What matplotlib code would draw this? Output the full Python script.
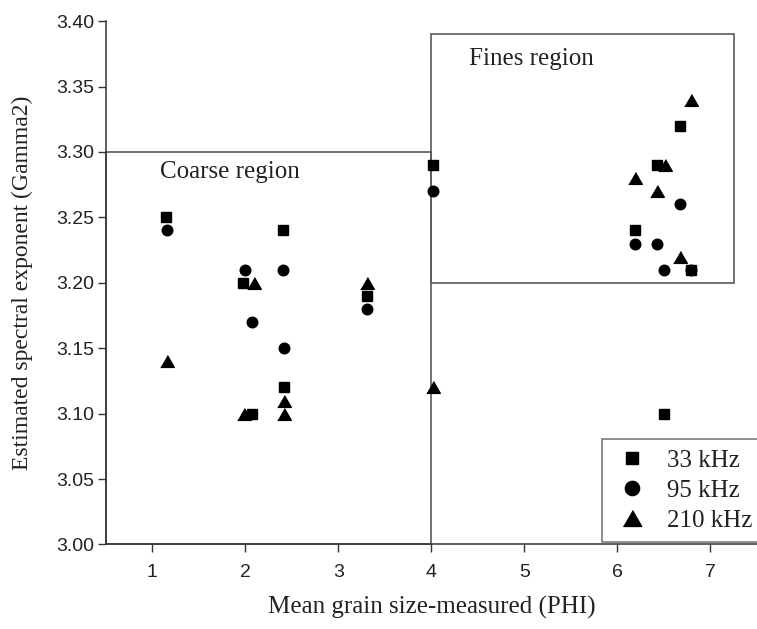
import matplotlib.pyplot as plt
from matplotlib.patches import Rectangle

# Datos: tamano de grano (PHI) y exponente espectral
phi_33 = [1.15, 1.98, 2.07, 2.41, 2.42, 3.31, 4.02, 6.67, 6.43, 6.19, 6.79, 6.50]
gam_33 = [3.25, 3.20, 3.10, 3.24, 3.12, 3.19, 3.29, 3.32, 3.29, 3.24, 3.21, 3.10]

phi_95 = [1.16, 2.00, 2.07, 2.41, 2.42, 3.31, 4.02, 6.67, 6.19, 6.43, 6.50, 6.79]
gam_95 = [3.24, 3.21, 3.17, 3.21, 3.15, 3.18, 3.27, 3.26, 3.23, 3.23, 3.21, 3.21]

phi_210 = [1.16, 2.09, 1.99, 2.42, 2.42, 3.31, 4.02, 6.79, 6.51, 6.19, 6.43, 6.67]
gam_210 = [3.14, 3.20, 3.10, 3.11, 3.10, 3.20, 3.12, 3.34, 3.29, 3.28, 3.27, 3.22]

x_ticks = [1, 2, 3, 4, 5, 6, 7]
y_ticks = [3.00, 3.05, 3.10, 3.15, 3.20, 3.25, 3.30, 3.35, 3.40]

serif = ['Liberation Serif', 'DejaVu Serif']
sans = ['Liberation Sans', 'DejaVu Sans']

fig = plt.figure(figsize=(7.57, 6.29), dpi=100)
ax = fig.add_axes([0.1396, 0.1344, 0.8604, 0.832])

# Regiones (cajas)
caja_color = '#5a5a5a'
ax.add_patch(Rectangle((0.5, 3.0), 3.5, 0.30, fill=False, edgecolor=caja_color,
                       linewidth=1.2, zorder=1, clip_on=False))
ax.add_patch(Rectangle((4.0, 3.2), 3.25, 0.19, fill=False, edgecolor=caja_color,
                       linewidth=1.2, zorder=1, clip_on=False))

ax.text(1.08, 3.285, 'Coarse region', family=serif, fontsize=18, color='#222222',
        va='center', ha='left')
ax.text(4.40, 3.371, 'Fines region', family=serif, fontsize=18, color='#222222',
        va='center', ha='left')

tri = [(-1, -0.866), (1, -0.866), (0, 0.866)]
ax.plot(phi_33, gam_33, 's', color='black', markersize=6.8, label='33 kHz', zorder=3)
ax.plot(phi_95, gam_95, 'o', color='black', markersize=7.6, label='95 kHz', zorder=3)
ax.plot(phi_210, gam_210, marker=tri, linestyle='none', color='black',
        markersize=9.8, label='210 kHz', zorder=3)

ax.set_xlim(0.5, 7.5)
ax.set_ylim(3.0, 3.4)
ax.set_xticks(x_ticks)
ax.set_yticks(y_ticks)
ax.set_xticklabels([str(v) for v in x_ticks], family=sans, fontsize=14)
ax.set_yticklabels([f'{v:.2f}' for v in y_ticks], family=sans, fontsize=14)
ax.tick_params(direction='out', length=6, width=1.0, color='#333333',
               labelcolor='#222222')
ax.tick_params(axis='x', pad=8)
ax.tick_params(axis='y', pad=2)

for lado in ['top', 'right']:
    ax.spines[lado].set_visible(False)
for lado in ['left', 'bottom']:
    ax.spines[lado].set_color('#333333')
    ax.spines[lado].set_linewidth(1.1)

ax.set_xlabel('Mean grain size-measured (PHI)', family=serif, fontsize=18,
              color='#222222', va='center')
ax.set_ylabel('Estimated spectral exponent (Gamma2)', family=serif, fontsize=17,
              color='#222222', va='center')
ax.xaxis.set_label_coords(0.5, -0.121)
ax.yaxis.set_label_coords(-0.1285, 0.5)

leg = ax.legend(loc='upper left', bbox_to_anchor=(0.7615, 0.2015), borderaxespad=0,
                prop={'family': serif, 'size': 18}, markerscale=1.35,
                fancybox=False, frameon=True, handlelength=1.6, handletextpad=0.6,
                labelspacing=0.3, borderpad=0.4)
leg.get_frame().set_edgecolor(caja_color)
leg.get_frame().set_linewidth(1.2)
for t in leg.get_texts():
    t.set_color('#222222')

plt.savefig('out.png', dpi=100)
